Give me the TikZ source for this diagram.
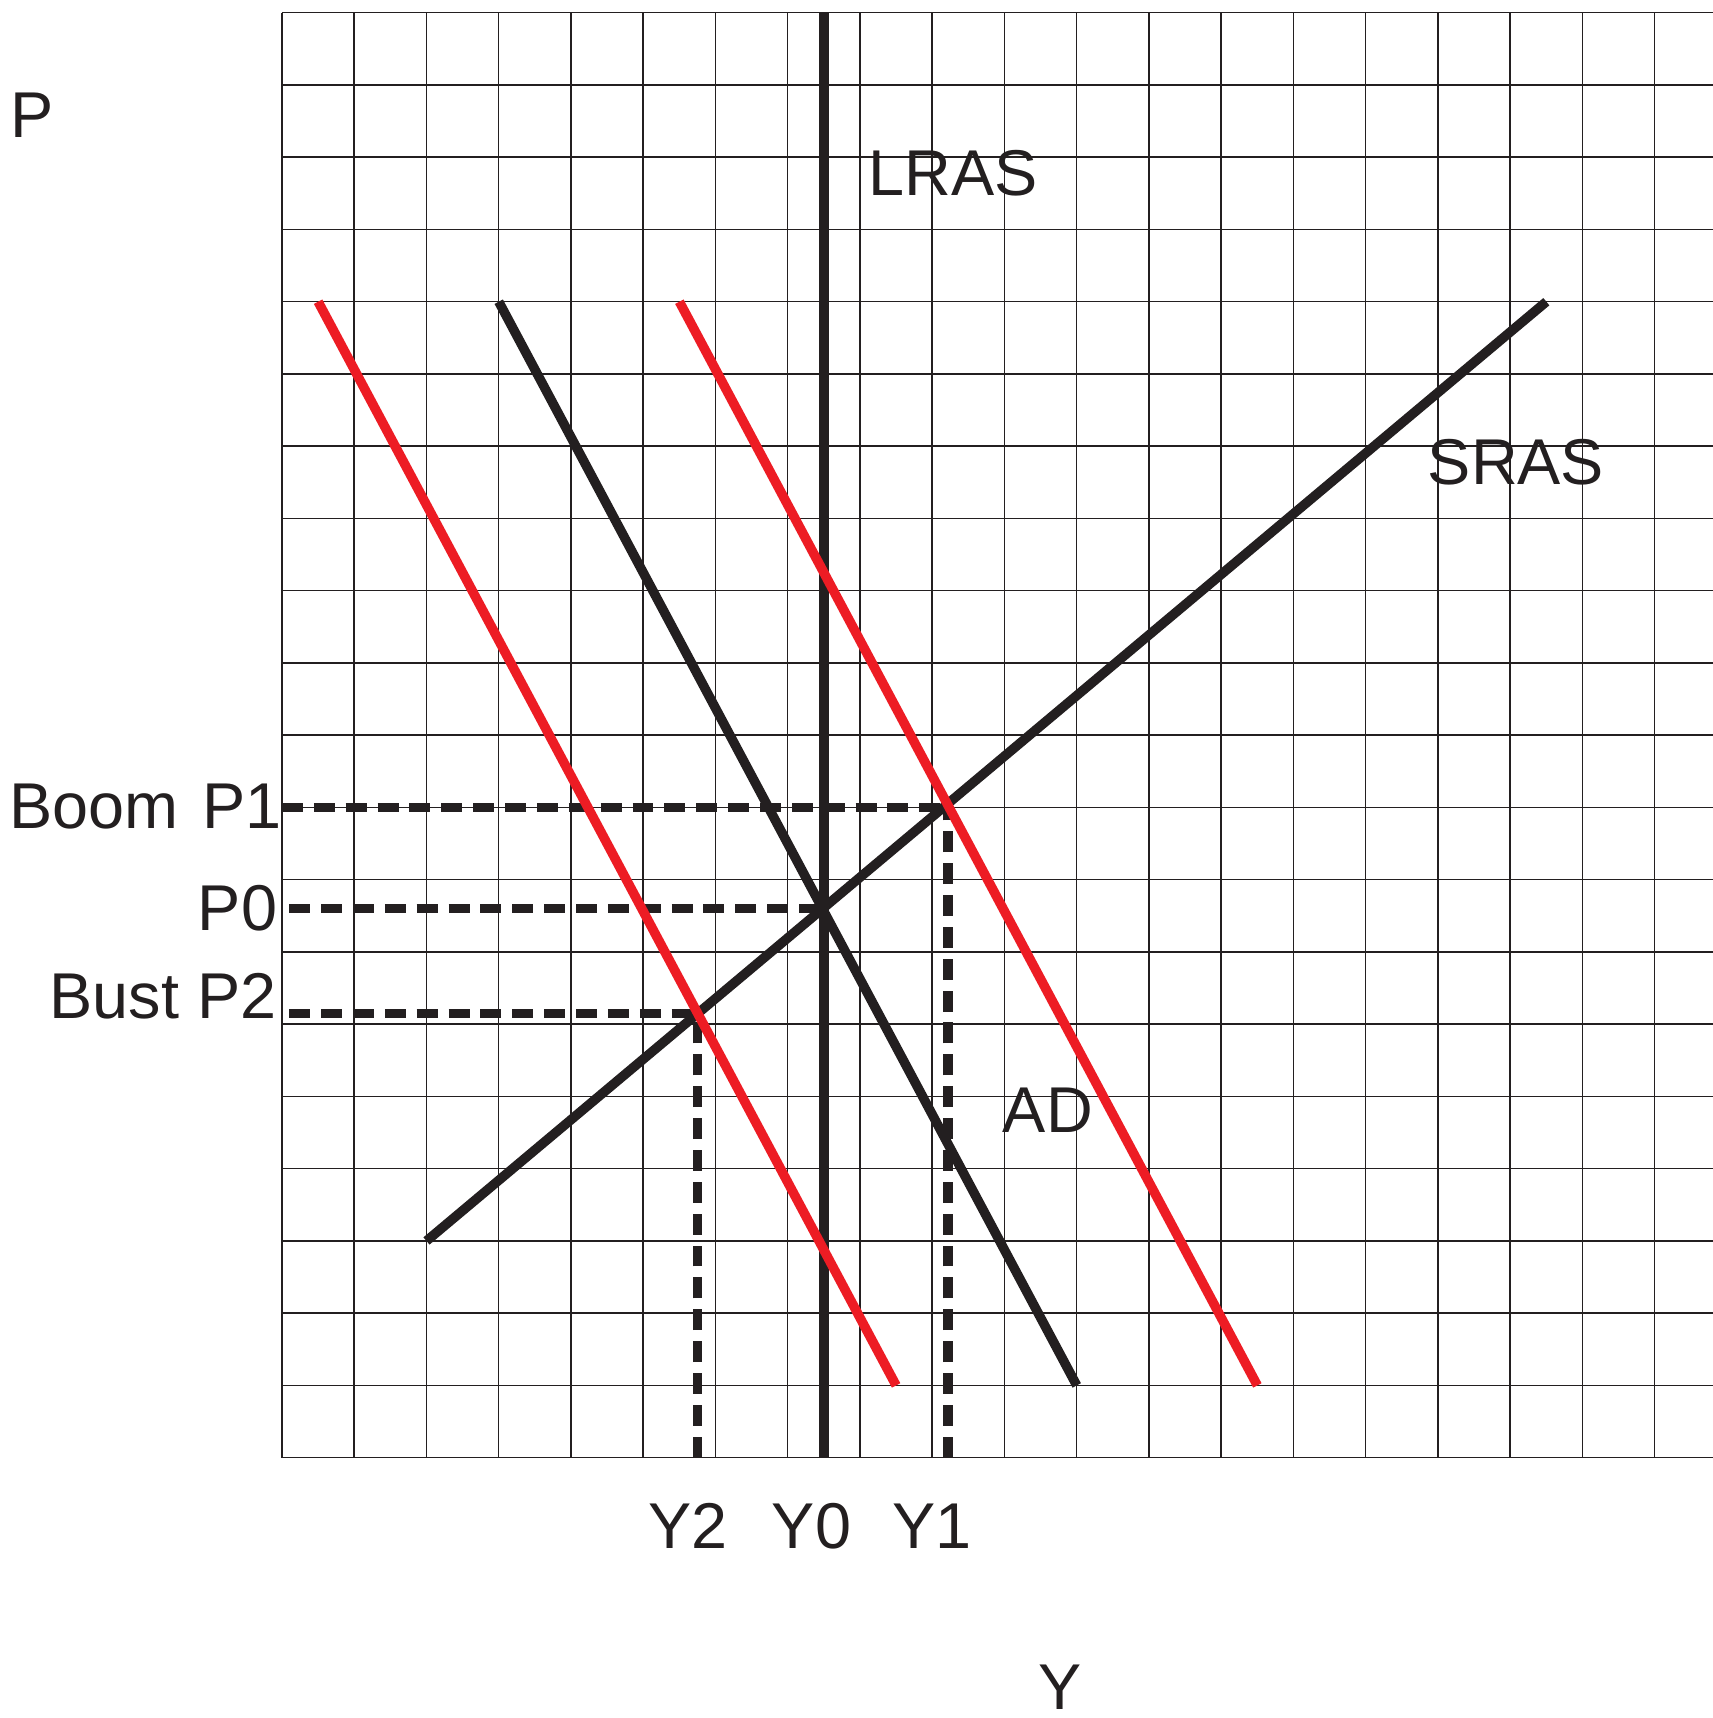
\documentclass[tikz,border=0pt]{standalone}
\usepackage{fontspec}
\setmainfont{Liberation Sans}
\definecolor{ink}{HTML}{231F20}
\definecolor{redline}{HTML}{ED1C24}
\begin{document}
\begin{tikzpicture}[x=1cm,y=1cm,
  gridline/.style={draw=ink, line width=0.6pt},
  curve/.style={draw=ink, line width=3.75pt},
  redcurve/.style={draw=redline, line width=3.75pt},
  guide/.style={draw=ink, line width=3.8pt, dash pattern=on 8.25pt off 4.3pt},
  lbl/.style={font=\fontsize{25.5}{30}\selectfont, text=ink, inner sep=0pt}]
\useasboundingbox (-3.903,-3.603) rectangle (19.806,20.176);
% grid
\foreach \i in {0,...,19} \draw[gridline] (\i,0) -- (\i,20);
\foreach \j in {0,...,20} \draw[gridline] (0,\j) -- (19.806,\j);
% key points
\coordinate (E0) at (7.5,7.6);
\coordinate (E1) at (9.22,9.0);
\coordinate (E2) at (5.75,6.15);
\coordinate (P1s) at (0,9.0);
\coordinate (P0s) at (0.1,7.6);
\coordinate (P2s) at (0.1,6.15);
\coordinate (Y1b) at (9.22,0);
\coordinate (Y2b) at (5.75,0);
\coordinate (Lt) at (7.5,20);
\coordinate (Lb) at (7.5,0);
\coordinate (Sa) at (2,3);
\coordinate (Sb) at (17.5,16);
\coordinate (Aa) at (3,16);
\coordinate (Ab) at (11,1);
\coordinate (Ra) at (5.5,16);
\coordinate (Rb) at (13.5,1);
\coordinate (La) at (0.5,16);
\coordinate (Lz) at (8.5,1);
% dashed guides
\draw[guide] (P1s) -- (E1);
\draw[guide] (P0s) -- (E0);
\draw[guide] (P2s) -- (E2);
\draw[guide] (Y1b) -- (E1);
\draw[guide] (Y2b) -- (E2);
% curves
\draw[curve] (Lt) -- (Lb);
\draw[curve] (Sa) -- (Sb);
\draw[curve] (Aa) -- (Ab);
\draw[redcurve] (Ra) -- (Rb);
\draw[redcurve] (La) -- (Lz);
% labels
\node[lbl] (lP) at (-3.46,18.58) {P};
\node[lbl] (lLRAS) at (9.29,17.78) {LRAS};
\node[lbl] (lSRAS) at (17.08,13.78) {SRAS};
\node[lbl] (lAD) at (10.60,4.81) {AD};
\node[lbl, anchor=east] (lP1) at (0.005,9.01) {Boom\hspace{0.1em} P1};
\node[lbl, anchor=east] (lP0) at (-0.06,7.6) {P0};
\node[lbl, anchor=east] (lP2) at (-0.07,6.386) {Bust P2};
\node[lbl] (lY2) at (5.62,-0.945) {Y2};
\node[lbl] (lY0) at (7.33,-0.945) {Y0};
\node[lbl] (lY1) at (9.0,-0.945) {Y1};
\node[lbl] (lY) at (10.77,-3.18) {Y};
\end{tikzpicture}
\end{document}
